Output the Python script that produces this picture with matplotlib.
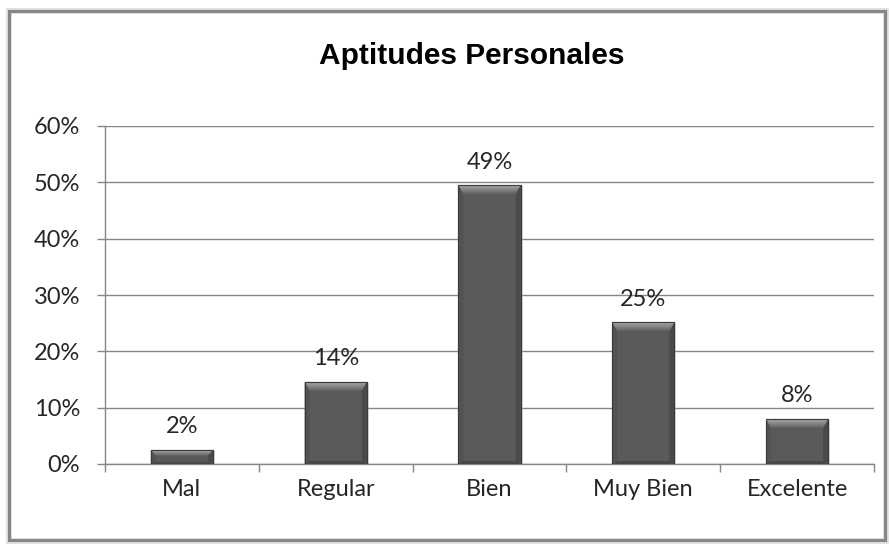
import numpy as np
import matplotlib.pyplot as plt
from matplotlib.patches import Rectangle, Polygon

categories = ["Mal", "Regular", "Bien", "Muy Bien", "Excelente"]
values = [0.025, 0.146, 0.495, 0.252, 0.08]
value_labels = ["2%", "14%", "49%", "25%", "8%"]
y_ticks = [0.0, 0.1, 0.2, 0.3, 0.4, 0.5, 0.6]
y_tick_labels = ["0%", "10%", "20%", "30%", "40%", "50%", "60%"]

W, H = 889, 546
GRID = "#868686"
TEXT = "#262626"
FS = 17

fig = plt.figure(figsize=(W / 100, H / 100), dpi=100)
fig.patch.set_facecolor("white")

# chart frame (excel-like border with a bit of shadow)
fig.patches.append(Rectangle((9 / W, 1 - 541 / H), 877 / W, 530 / H, transform=fig.transFigure,
                             fill=False, edgecolor="#dcdcdc", linewidth=4, zorder=0))
fig.patches.append(Rectangle((9 / W, 1 - 540 / H), 876 / W, 529 / H, transform=fig.transFigure,
                             fill=False, edgecolor=GRID, linewidth=2.2, zorder=1))

ax = fig.add_axes([105 / W, 1 - 464 / H, 769 / W, 338 / H])
x = np.arange(len(categories))
width = 0.404

# px -> data unit sizes
px_x = 1.0 / 153.8
px_y = 0.6 / 338

for xi, v in zip(x, values):
    x0 = xi - width / 2
    # soft shadow
    ax.add_patch(Rectangle((x0 + 2 * px_x, -1 * px_y), width, v, facecolor="#a0a0a0",
                           alpha=0.35, edgecolor="none", zorder=2, clip_on=False))
ax.bar(x, values, width=width, color="#5a5a5a", edgecolor="#3a3a3a", linewidth=0.8, zorder=3)

for xi, v in zip(x, values):
    x0, x1 = xi - width / 2, xi + width / 2
    t = min(9 * px_y, v * 0.4)
    b = min(3 * px_y, v * 0.15)
    s = 5 * px_x
    # side bevels
    ax.add_patch(Polygon([(x0, v), (x0 + s, v - t), (x0 + s, b), (x0, 0)], closed=True,
                         facecolor="#525252", edgecolor="none", zorder=4))
    ax.add_patch(Polygon([(x1, v), (x1 - s, v - t), (x1 - s, b), (x1, 0)], closed=True,
                         facecolor="#4a4a4a", edgecolor="none", zorder=4))
    ax.add_patch(Polygon([(x0, 0), (x1, 0), (x1 - s, b), (x0 + s, b)], closed=True,
                         facecolor="#474747", edgecolor="none", zorder=4))
    # top bevel with gradient
    top = Polygon([(x0, v), (x1, v), (x1 - s, v - t), (x0 + s, v - t)], closed=True,
                  facecolor="none", edgecolor="none", zorder=5)
    ax.add_patch(top)
    g = np.linspace(0.66, 0.38, 32).reshape(-1, 1, 1) * np.ones((1, 1, 3))
    im = ax.imshow(g, extent=(x0, x1, v - t, v), aspect="auto", zorder=5,
                   interpolation="bilinear")
    im.set_clip_path(top)
    ax.add_patch(Rectangle((x0, 0), width, v, fill=False, edgecolor="#3a3a3a",
                           linewidth=0.8, zorder=6))

ax.set_xlim(-0.5, len(categories) - 0.5)
ax.set_ylim(0, 0.6)

for xi, v, lab in zip(x, values, value_labels):
    ax.annotate(lab, (xi, v), xytext=(0, 9), textcoords="offset points", ha="center",
                va="bottom", fontsize=FS, family="Lato", color=TEXT)

ax.set_yticks(y_ticks)
ax.set_yticklabels(y_tick_labels, fontsize=FS, family="Lato", color=TEXT)
ax.yaxis.grid(True, color=GRID, linewidth=1.0)
ax.set_axisbelow(True)
ax.tick_params(axis="y", length=6, width=1, color=GRID, pad=12)

ax.set_xticks(np.arange(-0.5, len(categories), 1.0))
ax.set_xticklabels([])
ax.set_xticks(x, minor=True)
ax.set_xticklabels(categories, minor=True, fontsize=FS, family="Lato", color=TEXT)
ax.tick_params(axis="x", which="major", length=6, width=1, color=GRID)
ax.tick_params(axis="x", which="minor", length=0, pad=11)

for side in ["top", "right"]:
    ax.spines[side].set_visible(False)
for side in ["left", "bottom"]:
    ax.spines[side].set_color(GRID)
    ax.spines[side].set_linewidth(1.0)

fig.text(472 / W, 1 - 56 / H, "Aptitudes Personales", ha="center", va="center",
         fontsize=21.5, fontweight="bold", family="Liberation Sans", color="black")

fig.savefig("out.png", dpi=100)
